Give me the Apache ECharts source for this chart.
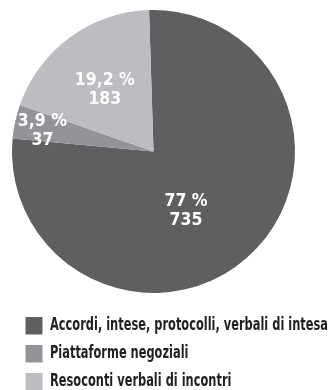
<!DOCTYPE html>
<html><head><meta charset="utf-8">
<script src="https://cdn.jsdelivr.net/npm/echarts@6/dist/echarts.min.js"></script>
<style>html,body{margin:0;padding:0;background:#fff}#c{width:331px;height:390px}</style>
</head><body><div id="c"></div>
<script>
const categories = ['Accordi, intese, protocolli, verbali di intesa', 'Piattaforme negoziali', 'Resoconti verbali di incontri'];
const values = [735, 37, 183];
const percentLabels = ['77 %', '3,9 %', '19,2 %'];
const colors = ['#5f5f62', '#939497', '#bcbdc0'];
const labelOffsets = [[-18, 6], [-39, -5], [-5, -2]];

const FONT = '"DejaVu Sans Condensed", "DejaVu Sans", sans-serif';
const LEGEND_FONT = 'bold 18px ' + FONT;

// measure to emulate the condensed typeface of the legend
const ctx = document.createElement('canvas').getContext('2d');
ctx.font = LEGEND_FONT;
const legendScale = 278 / ctx.measureText(categories[0]).width;

const legendTop = 317, legendPitch = 28;
const legendElements = [];
categories.forEach((name, i) => {
  legendElements.push({
    type: 'rect', shape: {x: 25.5, y: legendTop + i * legendPitch, width: 17, height: 17.5},
    style: {fill: colors[i]}, silent: true
  });
  legendElements.push({
    type: 'text', x: 50, y: legendTop + i * legendPitch + 8, scaleX: legendScale,
    style: {text: name, font: LEGEND_FONT, fill: '#231f20', verticalAlign: 'middle', align: 'left'}, silent: true
  });
});

const chart = echarts.init(document.getElementById('c'), null, {renderer: 'canvas'});
chart.setOption({
  animation: false,
  graphic: {elements: legendElements},
  series: [{
    type: 'pie', center: [153.5, 151.5], radius: [0, 141.5], startAngle: 91.8, clockwise: true,
    avoidLabelOverlap: false,
    label: {position: 'inside', color: '#fff', fontFamily: FONT, fontWeight: 'bold', fontSize: 17.5, lineHeight: 19,
      formatter: p => percentLabels[p.dataIndex] + '\n' + p.value},
    labelLine: {show: false},
    itemStyle: {borderWidth: 0},
    emphasis: {disabled: true},
    data: categories.map((n, i) => ({name: n, value: values[i], itemStyle: {color: colors[i]}, label: {offset: labelOffsets[i]}}))
  }]
});
</script></body></html>
